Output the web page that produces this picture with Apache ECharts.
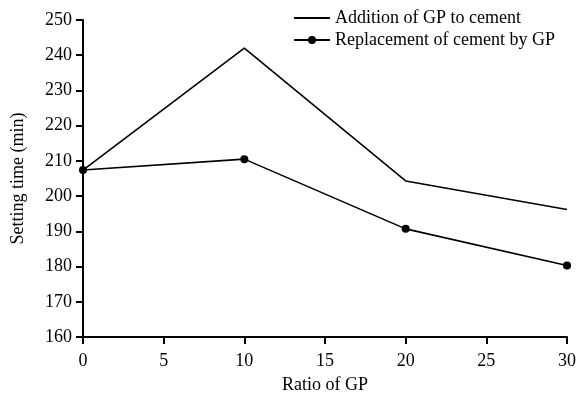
<!DOCTYPE html>
<html>
<head>
<meta charset="utf-8">
<script src="https://cdn.jsdelivr.net/npm/echarts@6/dist/echarts.min.js"></script>
<style>
html,body{margin:0;padding:0;background:#fff;}
#chart{width:577px;height:395px;}
</style>
</head>
<body>
<div id="chart"></div>
<script>
// GP ratio (x) and setting time in minutes
const ratios = [0, 10, 20, 30];
const additionOfGP = [207.4, 242.0, 204.3, 196.2];
const replacementByGP = [207.4, 210.5, 190.7, 180.3];

const font = 'Liberation Serif';
const chart = echarts.init(document.getElementById('chart'));

chart.setOption({
  animation: false,
  textStyle: { fontFamily: font, color: '#000' },
  grid: { left: 83, right: 10, top: 20, bottom: 58, outerBoundsMode: 'none', containLabel: false },
  legend: {
    top: 4,
    left: 288,
    orient: 'vertical',
    itemWidth: 36,
    itemHeight: 10,
    itemGap: 4,
    textStyle: { fontFamily: font, fontSize: 18, color: '#000' },
    data: [
      { name: 'Addition of GP to cement', itemStyle: { opacity: 0 } },
      { name: 'Replacement of cement by GP' }
    ]
  },
  xAxis: {
    type: 'value',
    min: 0, max: 30, interval: 5,
    name: 'Ratio of GP',
    nameLocation: 'middle',
    nameGap: 39,
    nameTextStyle: { fontFamily: font, fontSize: 18, color: '#000' },
    axisLine: { lineStyle: { color: '#000', width: 2 } },
    axisTick: { length: 7, lineStyle: { color: '#000', width: 2 } },
    axisLabel: { fontFamily: font, fontSize: 18, color: '#000', margin: 15 },
    splitLine: { show: false }
  },
  yAxis: {
    type: 'value',
    min: 160, max: 250, interval: 10,
    name: 'Setting time (min)',
    nameLocation: 'middle',
    nameGap: 56,
    nameTextStyle: { fontFamily: font, fontSize: 18, color: '#000' },
    axisLine: { show: true, lineStyle: { color: '#000', width: 2 } },
    axisTick: { show: true, length: 7, lineStyle: { color: '#000', width: 2 } },
    axisLabel: { fontFamily: font, fontSize: 18, color: '#000', margin: 11 },
    splitLine: { show: false }
  },
  series: [
    {
      name: 'Addition of GP to cement',
      type: 'line',
      data: ratios.map((r, i) => [r, additionOfGP[i]]),
      symbol: 'none',
      lineStyle: { color: '#000', width: 1.6 },
      itemStyle: { color: '#000' }
    },
    {
      name: 'Replacement of cement by GP',
      type: 'line',
      data: ratios.map((r, i) => [r, replacementByGP[i]]),
      symbol: 'circle',
      symbolSize: 8,
      lineStyle: { color: '#000', width: 1.6 },
      itemStyle: { color: '#000' }
    }
  ]
});
</script>
</body>
</html>
